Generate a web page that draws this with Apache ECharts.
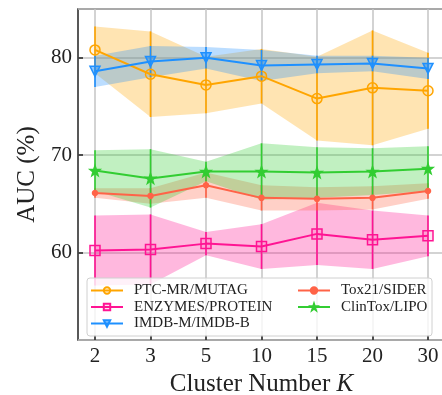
<!DOCTYPE html>
<html>
<head>
<meta charset="utf-8">
<script src="https://cdn.jsdelivr.net/npm/echarts@6/dist/echarts.min.js"></script>
<style>
  html, body { margin: 0; padding: 0; background: #fff; }
  #chart { width: 442px; height: 395px; }
</style>
</head>
<body>
<div id="chart"></div>
<script>
  // 聚类数 K
  var categories = ['2', '3', '5', '10', '15', '20', '30']

  var ptcMean  = [80.8, 78.3, 77.2, 78.1, 75.8, 76.9, 76.6]
  var ptcStd   = [2.4, 4.4, 2.9, 2.8, 4.3, 5.9, 3.9]
  var enzMean  = [60.2, 60.3, 60.9, 60.6, 61.9, 61.3, 61.7]
  var enzStd   = [3.6, 3.6, 1.2, 2.3, 3.2, 3.0, 2.1]
  var imdbMean = [78.6, 79.6, 80.0, 79.2, 79.3, 79.4, 78.9]
  var imdbStd  = [1.6, 1.6, 1.1, 1.6, 0.9, 0.8, 1.1]
  var toxMean  = [66.1, 65.8, 66.9, 65.6, 65.5, 65.6, 66.3]
  var toxStd   = [0.5, 0.8, 1.3, 1.3, 1.2, 1.2, 0.8]
  var clinMean = [68.4, 67.6, 68.3, 68.3, 68.2, 68.3, 68.6]
  var clinStd  = [2.1, 3.0, 1.0, 2.9, 2.6, 2.4, 2.3]

  var yTicks = [60, 70, 80]

  var FONT = 'Liberation Serif'
  var STAR = 'path://M0,-10 L2.35,-3.24 L9.51,-3.09 L3.8,1.24 L5.88,8.09 L0,4 L-5.88,8.09 L-3.8,1.24 L-9.51,-3.09 L-2.35,-3.24 Z'

  var groups = [
    { name: 'PTC-MR/MUTAG', mean: ptcMean, std: ptcStd, color: '#FFA500', symbol: 'circle', size: 10, fill: 'rgba(255,165,0,0.12)' },
    { name: 'ENZYMES/PROTEIN', mean: enzMean, std: enzStd, color: '#FF1493', symbol: 'rect', size: 10, fill: 'rgba(255,20,147,0.12)' },
    { name: 'IMDB-M/IMDB-B', mean: imdbMean, std: imdbStd, color: '#1E90FF', symbol: 'triangle', size: 10, fill: 'rgba(30,144,255,0.5)', rotate: 180 },
    { name: 'Tox21/SIDER', mean: toxMean, std: toxStd, color: '#FF6347', symbol: 'circle', size: 5, fill: '#FF6347' },
    { name: 'ClinTox/LIPO', mean: clinMean, std: clinStd, color: '#32CD32', symbol: STAR, size: 10, fill: '#32CD32' }
  ]

  function errBar(color) {
    return function (params, api) {
      var top = api.coord([api.value(0), api.value(2)])
      var bot = api.coord([api.value(0), api.value(1)])
      return {
        type: 'line',
        shape: { x1: top[0], y1: top[1], x2: bot[0], y2: bot[1] },
        style: { stroke: color, lineWidth: 1.6 }
      }
    }
  }

  var series = []
  groups.forEach(function (g, k) {
    var lo = g.mean.map(function (m, i) { return +(m - g.std[i]).toFixed(2) })
    var span = g.std.map(function (s) { return +(2 * s).toFixed(2) })
    // 阴影带
    series.push({
      name: g.name + '-lo', type: 'line', xAxisIndex: 1, yAxisIndex: 1,
      stack: 'band' + k, data: lo, symbol: 'none', silent: true,
      lineStyle: { opacity: 0 }, z: 1
    })
    series.push({
      name: g.name + '-band', type: 'line', xAxisIndex: 1, yAxisIndex: 1,
      stack: 'band' + k, data: span, symbol: 'none', silent: true,
      lineStyle: { opacity: 0 }, areaStyle: { color: g.color, opacity: 0.3 }, z: 1
    })
    // 误差线
    series.push({
      name: g.name + '-err', type: 'custom', xAxisIndex: 1, yAxisIndex: 1,
      itemStyle: { color: g.color }, z: 2,
      renderItem: errBar(g.color),
      encode: { x: 0, y: [1, 2] },
      data: g.mean.map(function (m, i) { return [i, lo[i], +(m + g.std[i]).toFixed(2)] })
    })
  })
  groups.forEach(function (g) {
    series.push({
      name: g.name, type: 'line', xAxisIndex: 1, yAxisIndex: 1,
      data: g.mean, symbol: g.symbol, symbolSize: g.size, symbolRotate: g.rotate || 0,
      showAllSymbol: true, z: 3,
      lineStyle: { color: g.color, width: 2 },
      itemStyle: { color: g.fill, borderColor: g.color, borderWidth: 1.5 }
    })
  })

  var chart = echarts.init(document.getElementById('chart'))
  var option = {
    backgroundColor: '#fff',
    animation: false,
    textStyle: { fontFamily: FONT },
    grid: [
      { left: 78, right: -3, top: 9, bottom: 55, outerBoundsMode: 'none', show: true, borderColor: '#222', borderWidth: 1.5, backgroundColor: 'transparent' },
      { left: 95, right: 14, top: 9, bottom: 55, outerBoundsMode: 'none' }
    ],
    xAxis: [
      { type: 'value', gridIndex: 0, min: 0, max: 1, show: false },
      {
        type: 'category', gridIndex: 1, data: categories, boundaryGap: false,
        axisLine: { show: false },
        axisTick: { inside: true, length: 5, lineStyle: { color: '#222', width: 1.5 } },
        splitLine: { show: true, lineStyle: { color: '#c4c4c4', width: 1.5 } },
        axisLabel: { color: '#222', fontSize: 21, fontFamily: FONT, margin: 6 },
        name: 'Cluster Number {i|K}', nameLocation: 'middle', nameGap: 27,
        nameTextStyle: {
          color: '#222', fontSize: 25, fontFamily: FONT,
          rich: { i: { fontStyle: 'italic', fontSize: 25, fontFamily: FONT, color: '#222' } }
        }
      }
    ],
    yAxis: [
      {
        type: 'value', gridIndex: 0, min: 51, max: 85, splitNumber: 3,
        axisLine: { show: false },
        axisTick: { inside: true, length: 5, lineStyle: { color: '#222', width: 1.5 } },
        splitLine: { show: true, lineStyle: { color: '#c4c4c4', width: 1.5 } },
        axisLabel: {
          color: '#222', fontSize: 21, fontFamily: FONT, margin: 6,
          showMinLabel: false, showMaxLabel: false,
          formatter: function (v) { return yTicks.indexOf(v) >= 0 ? String(v) : '' }
        },
        name: 'AUC (%)', nameLocation: 'middle', nameGap: 36,
        nameTextStyle: { color: '#222', fontSize: 25, fontFamily: FONT }
      },
      { type: 'value', gridIndex: 1, min: 51, max: 85, show: false }
    ],
    legend: [
      {
        left: 90, top: 283, orient: 'vertical', padding: 0, itemGap: 1.5,
        itemWidth: 32, itemHeight: 8,
        data: ['PTC-MR/MUTAG', 'ENZYMES/PROTEIN', 'IMDB-M/IMDB-B'],
        textStyle: { color: '#222', fontSize: 15, fontFamily: FONT, lineHeight: 14, padding: [0, 0, 0, 6] }
      },
      {
        left: 297, top: 283, orient: 'vertical', padding: 0, itemGap: 1.5,
        itemWidth: 32, itemHeight: 8,
        data: ['Tox21/SIDER', 'ClinTox/LIPO'],
        textStyle: { color: '#222', fontSize: 15, fontFamily: FONT, lineHeight: 14, padding: [0, 0, 0, 6] }
      }
    ],
    graphic: [{
      type: 'rect', z: 3, silent: true,
      shape: { x: 87, y: 278, width: 345, height: 58, r: 3 },
      style: { fill: 'rgba(255,255,255,0.8)', stroke: '#d0d0d0', lineWidth: 1 }
    }],
    series: series
  }
  chart.setOption(option)
</script>
</body>
</html>
